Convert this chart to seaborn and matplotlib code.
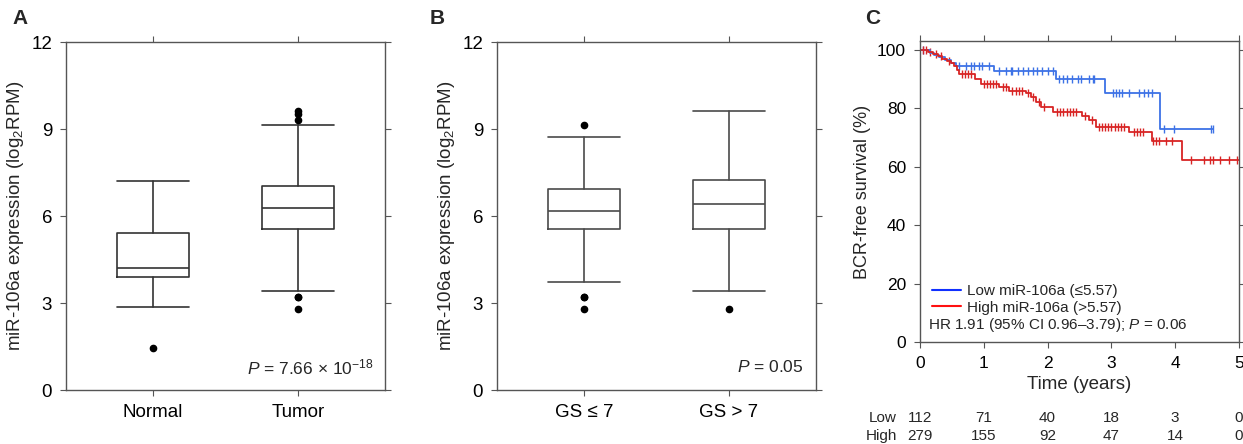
import numpy as np
import pandas as pd
import matplotlib
matplotlib.use("Agg")
import matplotlib.pyplot as plt
import seaborn as sns
from matplotlib.lines import Line2D

# ---- dados dos boxplots ----
groups_a = ["Normal", "Tumor"]
whislo_a = [2.87, 3.43]
q1_a = [3.89, 5.56]
med_a = [4.20, 6.28]
q3_a = [5.41, 7.05]
whishi_a = [7.21, 9.15]
fliers_a = [[1.46], [9.61, 9.53, 9.32, 3.22, 3.19, 2.80]]

groups_b = ["GS \u2264 7", "GS > 7"]
whislo_b = [3.72, 3.43]
q1_b = [5.56, 5.56]
med_b = [6.16, 6.42]
q3_b = [6.93, 7.23]
whishi_b = [8.71, 9.62]
fliers_b = [[9.15, 3.22, 3.19, 2.81], [2.81]]

# ---- curvas de Kaplan-Meier ----
low_t = [0, 0.15, 0.22, 0.30, 0.40, 0.48, 0.56, 1.16, 2.14, 2.90, 3.77, 4.60]
low_s = [100, 99.0, 98.2, 97.4, 96.5, 95.5, 94.3, 92.6, 90.0, 85.3, 73.0, 73.0]
low_cens = [0.05, 0.62, 0.72, 0.80, 0.85, 0.93, 0.97, 1.09, 1.24, 1.35, 1.43, 1.44,
            1.53, 1.61, 1.69, 1.77, 1.84, 1.92, 2.00, 2.08, 2.18, 2.24, 2.31, 2.39,
            2.47, 2.52, 2.65, 2.71, 2.73, 3.02, 3.07, 3.12, 3.17, 3.28, 3.44, 3.51,
            3.57, 3.64, 3.83, 3.98, 4.56, 4.60]

high_t = [0, 0.12, 0.20, 0.28, 0.35, 0.42, 0.48, 0.53, 0.58, 0.62, 0.86, 0.96, 1.24,
          1.40, 1.66, 1.74, 1.82, 1.90, 2.08, 2.54, 2.65, 2.76, 3.28, 3.63, 4.11, 5.0]
high_s = [100, 99.3, 98.6, 97.8, 97.0, 96.3, 95.5, 94.5, 93.2, 91.7, 90.0, 88.2, 87.1,
          86.0, 85.2, 83.7, 82.0, 80.5, 78.8, 77.4, 75.9, 73.4, 71.7, 68.9, 62.4, 62.4]
high_cens = [0.05, 0.10, 0.16, 0.25, 0.33, 0.45, 0.66, 0.70, 0.75, 0.80, 1.00, 1.05,
             1.10, 1.15, 1.20, 1.30, 1.35, 1.45, 1.50, 1.55, 1.60, 1.70, 1.78, 1.86,
             1.95, 2.15, 2.20, 2.25, 2.30, 2.35, 2.40, 2.45, 2.58, 2.70, 2.80, 2.85,
             2.90, 2.95, 3.00, 3.05, 3.10, 3.15, 3.20, 3.35, 3.40, 3.45, 3.50, 3.65,
             3.70, 3.75, 3.85, 3.95, 4.25, 4.45, 4.55, 4.60, 4.70, 4.85, 4.97]

risk_times = [0, 1, 2, 3, 4, 5]
risk_low = [112, 71, 40, 18, 3, 0]
risk_high = [279, 155, 92, 47, 14, 0]

# ---- estilo ----
sns.set_style("ticks")
plt.rcParams['font.family'] = ['Liberation Sans', 'DejaVu Sans']
plt.rcParams['mathtext.fontset'] = 'custom'
plt.rcParams['mathtext.rm'] = 'Liberation Sans'
plt.rcParams['mathtext.it'] = 'Liberation Sans:italic'
plt.rcParams['axes.edgecolor'] = '#555555'
plt.rcParams['axes.linewidth'] = 1.0
plt.rcParams['xtick.color'] = '#555555'
plt.rcParams['ytick.color'] = '#555555'
plt.rcParams['xtick.labelcolor'] = 'black'
plt.rcParams['ytick.labelcolor'] = 'black'

fig = plt.figure(figsize=(12.43, 4.44), dpi=100)
ax_a = fig.add_axes([0.0531, 0.1216, 0.2566, 0.7838])
ax_b = fig.add_axes([0.3998, 0.1216, 0.2566, 0.7838])
ax_c = fig.add_axes([0.7401, 0.2297, 0.2566, 0.6780])


def caixas(ax, groups, lo, q1, med, q3, hi, fl, cor):
    stats = []
    for i in range(len(groups)):
        stats.append(dict(label=groups[i], whislo=lo[i], q1=q1[i], med=med[i],
                          q3=q3[i], whishi=hi[i], fliers=fl[i]))
    lp = dict(color=cor, linewidth=1.2)
    ax.bxp(stats, positions=range(len(groups)), widths=0.5,
           boxprops=lp, whiskerprops=lp, capprops=lp, medianprops=lp,
           capwidths=0.5,
           flierprops=dict(marker='o', markerfacecolor='black', markeredgecolor='black',
                           markersize=4.5))
    ax.set_xlim(-0.6, 1.6)
    ax.set_ylim(0, 12)
    ax.set_yticks([0, 3, 6, 9, 12])
    ax.set_xticks([0, 1])
    ax.set_xticklabels(groups)
    ax.tick_params(axis='both', direction='out', length=4, labelsize=13.5,
                   top=True, right=True, pad=6)
    ax.set_ylabel("miR-106a expression (log$_2$RPM)", fontsize=13.5)


caixas(ax_a, groups_a, whislo_a, q1_a, med_a, q3_a, whishi_a, fliers_a, '#333333')
caixas(ax_b, groups_b, whislo_b, q1_b, med_b, q3_b, whishi_b, fliers_b, '#4a4a4a')
ax_a.text(0.963, 0.065, "$P$ = 7.66 \u00d7 10$^{-18}$", transform=ax_a.transAxes,
          ha='right', va='center', fontsize=12.5)
ax_b.text(0.96, 0.065, "$P$ = 0.05", transform=ax_b.transAxes,
          ha='right', va='center', fontsize=12.5)

# ---- painel C: Kaplan-Meier ----
cor_low = '#3d72e6'
cor_high = '#d82424'
km_low = pd.DataFrame({'t': low_t, 's': low_s})
km_high = pd.DataFrame({'t': high_t, 's': high_s})
sns.lineplot(data=km_low, x='t', y='s', ax=ax_c, drawstyle='steps-post',
             color=cor_low, linewidth=1.3, estimator=None, sort=False)
sns.lineplot(data=km_high, x='t', y='s', ax=ax_c, drawstyle='steps-post',
             color=cor_high, linewidth=1.3, estimator=None, sort=False)


def marca_censura(tempos, t, s):
    idx = np.searchsorted(np.array(t), np.array(tempos), side='right') - 1
    return pd.DataFrame({'t': tempos, 's': np.array(s)[idx]})


sns.scatterplot(data=marca_censura(low_cens, low_t, low_s), x='t', y='s', ax=ax_c,
                marker='|', s=40, color=cor_low, linewidth=1.0)
sns.scatterplot(data=marca_censura(high_cens, high_t, high_s), x='t', y='s', ax=ax_c,
                marker='|', s=40, color=cor_high, linewidth=1.0)

ax_c.set_xlim(0, 5)
ax_c.set_ylim(0, 103)
ax_c.set_xticks(risk_times)
ax_c.set_yticks([0, 20, 40, 60, 80, 100])
ax_c.tick_params(axis='both', direction='out', length=4, labelsize=12.5,
                 top=True, right=True, pad=6)
ax_c.set_xlabel("Time (years)", fontsize=13.5)
ax_c.set_ylabel("BCR-free survival (%)", fontsize=13)

leg_handles = [Line2D([0], [0], color='#1030ff', lw=1.5),
               Line2D([0], [0], color='#ff1010', lw=1.5)]
ax_c.legend(leg_handles, ["Low miR-106a (\u22645.57)", "High miR-106a (>5.57)"],
            loc='lower left', bbox_to_anchor=(-0.005, 0.045), frameon=False,
            fontsize=11, handlelength=1.9, handletextpad=0.4, labelspacing=0.15)
ax_c.text(0.026, 0.056, "HR 1.91 (95% CI 0.96\u20133.79); $P$ = 0.06",
          transform=ax_c.transAxes, ha='left', va='center', fontsize=11)

# tabela de risco
for i, t in enumerate(risk_times):
    ax_c.text(t, -0.252, str(risk_low[i]), transform=ax_c.get_xaxis_transform(),
              ha='center', va='center', fontsize=11, clip_on=False)
    ax_c.text(t, -0.312, str(risk_high[i]), transform=ax_c.get_xaxis_transform(),
              ha='center', va='center', fontsize=11, clip_on=False)
fig.text(897 / 1243, 1 - 418 / 444, "Low", ha='right', va='center', fontsize=11)
fig.text(897 / 1243, 1 - 436 / 444, "High", ha='right', va='center', fontsize=11)

# letras dos painéis
fig.text(12 / 1243, 1 - 18 / 444, "A", fontsize=15, fontweight='bold', va='center')
fig.text(430 / 1243, 1 - 18 / 444, "B", fontsize=15, fontweight='bold', va='center')
fig.text(865 / 1243, 1 - 18 / 444, "C", fontsize=15, fontweight='bold', va='center')

fig.savefig("out.png", dpi=100)
